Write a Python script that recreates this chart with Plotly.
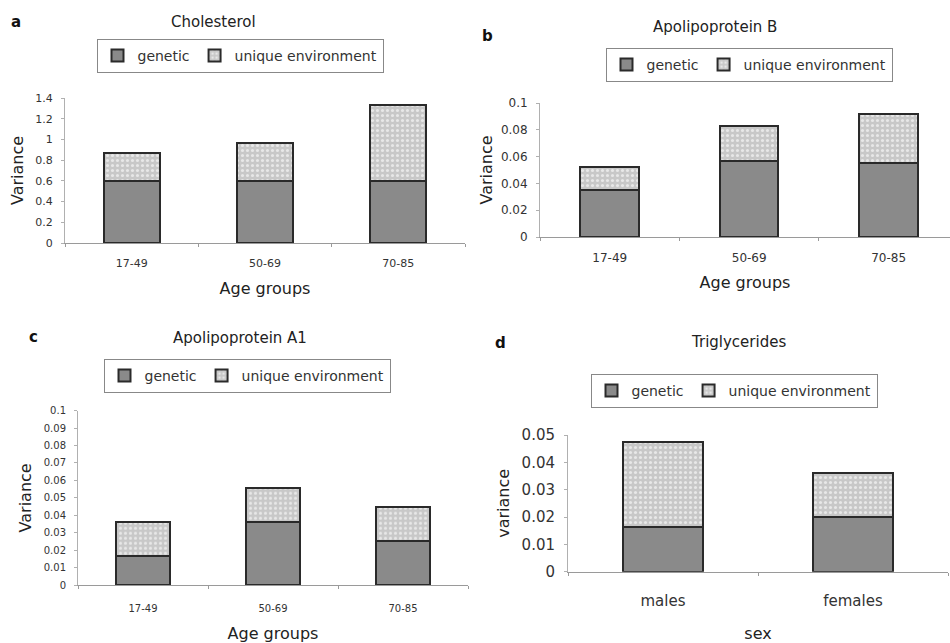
import plotly.graph_objects as go

# ---- data ----
age_groups = ["17-49", "50-69", "70-85"]
sexes = ["males", "females"]

chol_genetic = [0.60, 0.60, 0.60]
chol_unique = [0.27, 0.365, 0.735]

apob_genetic = [0.035, 0.057, 0.055]
apob_unique = [0.017, 0.026, 0.037]

apoa1_genetic = [0.0165, 0.036, 0.025]
apoa1_unique = [0.0195, 0.0195, 0.0195]

trig_genetic = [0.0165, 0.020]
trig_unique = [0.031, 0.0162]

panels = [
    dict(key="", cats=age_groups, gen=chol_genetic, uni=chol_unique, title="Cholesterol",
         letter="a", ytitle="Variance", xtitle="Age groups", yrange=[0, 1.4], dtick=0.2),
    dict(key="2", cats=age_groups, gen=apob_genetic, uni=apob_unique, title="Apolipoprotein B",
         letter="b", ytitle="Variance", xtitle="Age groups", yrange=[0, 0.1], dtick=0.02),
    dict(key="3", cats=age_groups, gen=apoa1_genetic, uni=apoa1_unique, title="Apolipoprotein A1",
         letter="c", ytitle="Variance", xtitle="Age groups", yrange=[0, 0.1], dtick=0.01),
    dict(key="4", cats=sexes, gen=trig_genetic, uni=trig_unique, title="Triglycerides",
         letter="d", ytitle="variance", xtitle="sex", yrange=[0, 0.05], dtick=0.01),
]

W, H = 950, 643
def px(x): return x / W
def py(y): return 1 - y / H

# layout geometry (pixels)
geo = [
    dict(x0=65, x1=465, y0=243, y1=98, xr=[-0.5, 2.5], tickfs=11,
         xls=10, xts=13, yls=6, yts=7,
         title_xy=(213, 22), letter_xy=(16, 22), leg_xy=(240, 56)),
    dict(x0=540, x1=950, y0=237, y1=103, xr=[-0.5, 2.44], tickfs=12,
         xls=10, xts=12, yls=6, yts=4,
         title_xy=(715, 27), letter_xy=(488, 36), leg_xy=(749, 65)),
    dict(x0=78, x1=468, y0=585, y1=410.7, xr=[-0.5, 2.5], tickfs=10,
         xls=14, xts=20, yls=6, yts=8,
         title_xy=(240, 338), letter_xy=(33, 337), leg_xy=(247, 376)),
    dict(x0=568, x1=948, y0=571.7, y1=435, xr=[-0.5, 1.5], tickfs=15,
         xls=15, xts=24, yls=6, yts=7,
         title_xy=(738, 342), letter_xy=(500, 343), leg_xy=(734, 391)),
]

GEN_COLOR = "#8a8a8a"
UNI_COLOR = "#c8c8c8"
EDGE = "#2a2a2a"
FONT = "DejaVu Sans, Verdana, sans-serif"

fig = go.Figure()
annotations = []
layout = {}

for i, (p, g) in enumerate(zip(panels, geo)):
    k = p["key"]
    xa, ya = "x" + k, "y" + k
    leg = "legend" + k
    fig.add_trace(go.Bar(
        x=p["cats"], y=p["gen"], name="genetic", xaxis=xa, yaxis=ya, width=0.42,
        marker=dict(color=GEN_COLOR, line=dict(color=EDGE, width=2)),
        legend=leg, showlegend=True))
    fig.add_trace(go.Bar(
        x=p["cats"], y=p["uni"], name="unique environment", xaxis=xa, yaxis=ya, width=0.42,
        marker=dict(color=UNI_COLOR, line=dict(color=EDGE, width=2),
                    pattern=dict(shape=".", fgcolor="#e8e8e8", bgcolor=UNI_COLOR, size=5, solidity=0.3)),
        legend=leg, showlegend=True))

    layout["xaxis" + k] = dict(
        domain=[px(g["x0"]), px(g["x1"])], anchor=ya, range=g["xr"], type="category",
        automargin=False,
        showline=True, linecolor="#9a9a9a", linewidth=1, ticks="outside", ticklen=3,
        tickcolor="#9a9a9a", tickson="boundaries", showgrid=False, zeroline=False,
        ticklabelstandoff=g["xls"],
        tickfont=dict(size=g["tickfs"], color="#333"),
        title=dict(text=p["xtitle"], font=dict(size=16, color="#222"), standoff=g["xts"]))
    layout["yaxis" + k] = dict(
        domain=[py(g["y0"]), py(g["y1"])], anchor=xa, range=p["yrange"], dtick=p["dtick"],
        automargin=False,
        showline=True, linecolor="#b0b0b0", linewidth=1, ticks="outside", ticklen=3,
        tickcolor="#b0b0b0", showgrid=False, zeroline=False,
        ticklabelstandoff=g["yls"],
        tickfont=dict(size=g["tickfs"], color="#333"),
        title=dict(text=p["ytitle"], font=dict(size=16, color="#222"), standoff=g["yts"]))
    layout[leg] = dict(
        x=px(g["leg_xy"][0]), y=py(g["leg_xy"][1]), xanchor="center", yanchor="middle",
        orientation="h", bgcolor="white", bordercolor="#888", borderwidth=1,
        font=dict(size=14, color="#333"), itemwidth=30, traceorder="normal",
        tracegroupgap=0, itemclick=False)

    annotations.append(dict(text=p["title"], x=px(g["title_xy"][0]), y=py(g["title_xy"][1]),
                            xref="paper", yref="paper", showarrow=False,
                            xanchor="center", yanchor="middle",
                            font=dict(size=15, color="#222")))
    annotations.append(dict(text="<b>" + p["letter"] + "</b>", x=px(g["letter_xy"][0]),
                            y=py(g["letter_xy"][1]), xref="paper", yref="paper",
                            xanchor="center", yanchor="middle",
                            showarrow=False, font=dict(size=15, color="#111")))

fig.update_layout(
    template="none",
    width=W, height=H, barmode="stack", plot_bgcolor="white", paper_bgcolor="white",
    margin=dict(l=0, r=0, t=0, b=0, autoexpand=False), font=dict(family=FONT, color="#222"),
    annotations=annotations, **layout)

fig.write_html("out.html", config={"displayModeBar": False},
               post_script="document.body.style.margin='0';")
